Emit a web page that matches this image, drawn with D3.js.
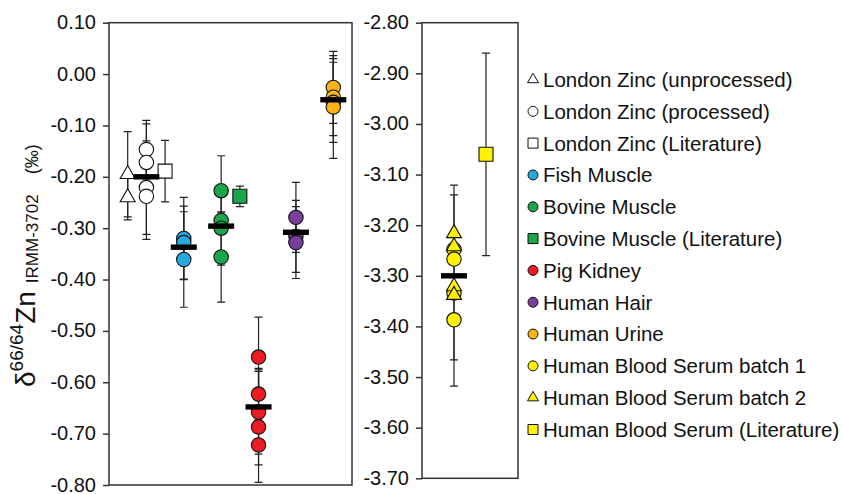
<!DOCTYPE html>
<html>
<head>
<meta charset="utf-8">
<script src="https://cdn.jsdelivr.net/npm/d3@7"></script>
<style>
  body { margin: 0; background: #fff; }
  text { font-family: "Liberation Sans", Arial, sans-serif; fill: #111; }
</style>
</head>
<body>
<div id="viz"></div>
<script>
const width = 843;
const height = 494;

// tick labels
const leftTicks = [0.10, 0.00, -0.10, -0.20, -0.30, -0.40, -0.50, -0.60, -0.70, -0.80];
const rightTicks = [-2.80, -2.90, -3.00, -3.10, -3.20, -3.30, -3.40, -3.50, -3.60, -3.70];

// x column of each series (plot units)
const leftX = { lzUnproc: 1, lzProc: 2, lzLit: 3, fish: 4, bovine: 6, bovineLit: 7, pig: 8, hair: 10, urine: 12 };
const rightX = { serum: 1, serumLit: 2 };

// measured values and their error (±)
const lzUnproc = [-0.195, -0.240];
const lzUnprocErr = [0.083, 0.044];
const lzProc = [-0.147, -0.172, -0.221, -0.238];
const lzProcErr = [0.057, 0.075, 0.091, 0.084];
const lzLit = [-0.189];
const lzLitErr = [0.060];
const fish = [-0.320, -0.328, -0.361];
const fishErr = [0.080, 0.071, 0.093];
const bovine = [-0.227, -0.285, -0.300, -0.356];
const bovineErr = [0.068, 0.015, 0.072, 0.088];
const bovineLit = [-0.238];
const bovineLitErr = [0.020];
const pig = [-0.551, -0.623, -0.658, -0.687, -0.722];
const pigErr = [0.078, 0.050, 0.082, 0.108, 0.039];
const hair = [-0.279, -0.316, -0.328];
const hairErr = [0.068, 0.070, 0.070];
const urine = [-0.026, -0.045, -0.055, -0.064];
const urineErr = [0.070, 0.075, 0.078, 0.100];

const serum1 = [-3.248, -3.267, -3.334, -3.387];
const serum2 = [-3.216, -3.242, -3.321, -3.338];
const serumRanges = [[-3.121, -3.466], [-3.140, -3.518]];
const serumLit = [-3.060];
const serumLitErr = [0.200];

// mean of each sample (black bars)
const leftMeans = [
  { x: 2, v: -0.200 },
  { x: 4, v: -0.337 },
  { x: 6, v: -0.296 },
  { x: 8, v: -0.648 },
  { x: 10, v: -0.308 },
  { x: 12, v: -0.050 }
];
const rightMeans = [{ x: 1, v: -3.300 }];

const legendLabels = [
  'London Zinc (unprocessed)', 'London Zinc (processed)', 'London Zinc (Literature)',
  'Fish Muscle', 'Bovine Muscle', 'Bovine Muscle (Literature)', 'Pig Kidney',
  'Human Hair', 'Human Urine', 'Human Blood Serum batch 1',
  'Human Blood Serum batch 2', 'Human Blood Serum (Literature)'
];

const colors = {
  white: '#ffffff', blue: '#29a8df', green: '#1ba64b', red: '#ec1c24',
  purple: '#7a3f9b', orange: '#fbb416', yellow: '#fff200'
};

const legendStyle = [
  ['triangle', colors.white], ['circle', colors.white], ['square', colors.white],
  ['circle', colors.blue], ['circle', colors.green], ['square', colors.green],
  ['circle', colors.red], ['circle', colors.purple], ['circle', colors.orange],
  ['circle', colors.yellow], ['triangle', colors.yellow], ['square', colors.yellow]
];

const yL = d3.scaleLinear().domain([0.10, -0.80]).range([22.7, 485]);
const xL = d3.scaleLinear().domain([0, 13]).range([109, 352]);
const yR = d3.scaleLinear().domain([-2.80, -3.70]).range([22.7, 478.3]);
const xR = d3.scaleLinear().domain([0, 3]).range([422, 518]);

const symbolType = { circle: d3.symbolCircle, triangle: d3.symbolTriangle, square: d3.symbolSquare };
const bigSize = { circle: Math.PI * 7.2 * 7.2, triangle: Math.sqrt(3) / 4 * 15 * 15, square: 14 * 14 };
const smallSize = { circle: Math.PI * 5 * 5, triangle: Math.sqrt(3) / 4 * 11 * 11, square: 10 * 10 };

const svg = d3.select('#viz').append('svg')
  .attr('width', width)
  .attr('height', height);

const fmt = d => d.toFixed(2);

function drawAxis(x0, yScale, ticks) {
  const g = svg.append('g')
    .attr('transform', `translate(${x0},0)`)
    .call(d3.axisLeft(yScale).tickValues(ticks).tickFormat(fmt).tickSize(6).tickPadding(7).tickSizeOuter(0));
  g.select('.domain').remove();
  g.selectAll('line').attr('stroke', '#333').attr('stroke-width', 1.5);
  g.selectAll('text').attr('font-size', 20).attr('dy', '0.3em').attr('fill', '#111');
}

drawAxis(109, yL, leftTicks);
drawAxis(422, yR, rightTicks);

// panel frames
svg.append('rect')
  .attr('x', xL.range()[0]).attr('y', yL.range()[0])
  .attr('width', xL.range()[1] - xL.range()[0])
  .attr('height', yL.range()[1] - yL.range()[0])
  .attr('fill', 'none').attr('stroke', '#333').attr('stroke-width', 1.5);

svg.append('rect')
  .attr('x', xR.range()[0]).attr('y', yR.range()[0])
  .attr('width', xR.range()[1] - xR.range()[0])
  .attr('height', yR.range()[1] - yR.range()[0])
  .attr('fill', 'none').attr('stroke', '#333').attr('stroke-width', 1.5);

const errLayer = svg.append('g').attr('stroke', '#222').attr('stroke-width', 1.2);
const markLayer = svg.append('g');
const meanLayer = svg.append('g');

function errorBar(px, y1, y2) {
  const cap = 4;
  errLayer.append('path')
    .attr('fill', 'none')
    .attr('d', `M${px},${y1}V${y2}M${px - cap},${y1}H${px + cap}M${px - cap},${y2}H${px + cap}`);
}

function series(xs, ys, xKey, values, errs, shape, fill) {
  values.forEach((v, i) => {
    if (errs) errorBar(xs(xKey), ys(v + errs[i]), ys(v - errs[i]));
  });
  markLayer.selectAll(null)
    .data(values)
    .enter()
    .append('path')
    .attr('transform', d => `translate(${xs(xKey)},${ys(d)})`)
    .attr('d', d3.symbol(symbolType[shape], bigSize[shape]))
    .attr('fill', fill)
    .attr('stroke', '#111')
    .attr('stroke-width', 1.1);
}

series(xL, yL, leftX.lzUnproc, lzUnproc, lzUnprocErr, 'triangle', colors.white);
series(xL, yL, leftX.lzProc, lzProc, lzProcErr, 'circle', colors.white);
series(xL, yL, leftX.lzLit, lzLit, lzLitErr, 'square', colors.white);
series(xL, yL, leftX.fish, fish, fishErr, 'circle', colors.blue);
series(xL, yL, leftX.bovine, bovine, bovineErr, 'circle', colors.green);
series(xL, yL, leftX.bovineLit, bovineLit, bovineLitErr, 'square', colors.green);
series(xL, yL, leftX.pig, pig, pigErr, 'circle', colors.red);
series(xL, yL, leftX.hair, hair, hairErr, 'circle', colors.purple);
series(xL, yL, leftX.urine, urine, urineErr, 'circle', colors.orange);

serumRanges.forEach(r => errorBar(xR(rightX.serum), yR(r[0]), yR(r[1])));
series(xR, yR, rightX.serum, serum1, null, 'circle', colors.yellow);
series(xR, yR, rightX.serum, serum2, null, 'triangle', colors.yellow);
series(xR, yR, rightX.serumLit, serumLit, serumLitErr, 'square', colors.yellow);

// mean bars
function meanBars(xs, ys, means) {
  meanLayer.selectAll(null)
    .data(means)
    .enter()
    .append('rect')
    .attr('x', d => xs(d.x) - 13)
    .attr('y', d => ys(d.v) - 2.7)
    .attr('width', 26)
    .attr('height', 5.4)
    .attr('fill', '#000');
}
meanBars(xL, yL, leftMeans);
meanBars(xR, yR, rightMeans);

// legend
const legendY = d3.scaleLinear().domain([0, legendLabels.length - 1]).range([79.5, 429.5]);
const legend = svg.append('g');
const item = legend.selectAll('g')
  .data(legendLabels)
  .enter()
  .append('g')
  .attr('transform', (d, i) => `translate(533,${legendY(i)})`);

item.append('path')
  .attr('d', (d, i) => d3.symbol(symbolType[legendStyle[i][0]], smallSize[legendStyle[i][0]])())
  .attr('fill', (d, i) => legendStyle[i][1])
  .attr('stroke', '#111')
  .attr('stroke-width', 1);

item.append('text')
  .attr('x', 10)
  .attr('dy', '0.36em')
  .attr('font-size', 20.5)
  .text(d => d);

// y axis title
const title = svg.append('text')
  .attr('transform', 'translate(35,387) rotate(-90)')
  .attr('font-size', 28);
title.append('tspan').text('δ');
title.append('tspan').attr('font-size', 19).attr('dy', -12).text('66/64');
title.append('tspan').attr('dy', 12).text('Zn');
title.append('tspan').attr('font-size', 17).attr('dy', 3).attr('dx', 8).text('IRMM-3702');
title.append('tspan').attr('font-size', 18).attr('dx', 20).text('(‰)');
</script>
</body>
</html>
